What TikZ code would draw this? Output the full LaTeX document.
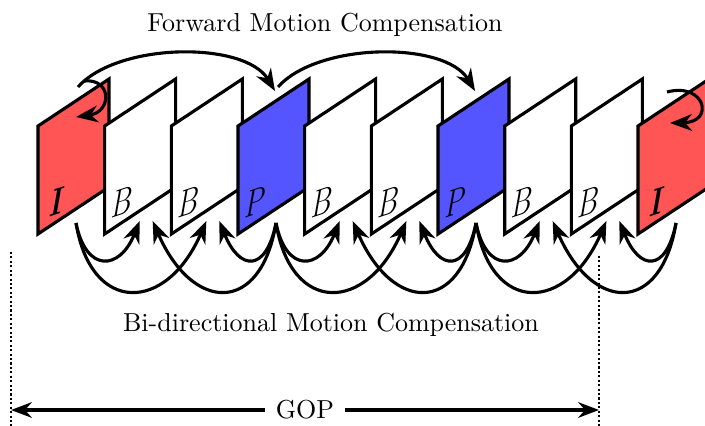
\documentclass[tikz,border=0pt]{standalone}
\usepackage{tikz}
\definecolor{iframe}{RGB}{255, 85, 85}
\definecolor{pframe}{RGB}{85, 85, 255}
\usetikzlibrary{arrows.meta, positioning, calc}

\begin{document}
\begin{tikzpicture}[x=0.01352cm, y=-0.01352cm,
    frame/.style={draw=black, line width=1.2pt, line join=miter},
    mc/.style={line width=1.2pt, -{Stealth[length=8.5pt, width=6.5pt]}},
    gop/.style={line width=0.8pt, dash pattern=on 0.8pt off 0.9pt}]
  \useasboundingbox (0,0) rectangle (705,426);

  % the frames of one GOP
  \foreach \k/\t/\c in {0/{\bfseries\itshape I}/iframe, 1/$B$/white, 2/$B$/white,
      3/$P$/pframe, 4/$B$/white, 5/$B$/white, 6/$P$/pframe, 7/$B$/white,
      8/$B$/white, 9/{\bfseries\itshape I}/iframe} {
    \pgfmathsetmacro{\x}{38+66.67*\k}
    \filldraw[frame, fill=\c] (\x,234) -- (\x,126) -- (\x+71,79) -- (\x+71,187) -- cycle;
    \node[xscale=0.75, yslant=0.25, font=\Large] (lbl\k) at (\x+17,202) {\t};
    \coordinate (fin\k) at (\x+37,91);
    \coordinate (fout\k) at (\x+40,87);
    \coordinate (bot\k) at (\x+38,223);
    \coordinate (tl\k) at (\x+35,221);
    \coordinate (tr\k) at (\x+48,221);
  }

  % I frames refer to themselves
  \coordinate (ia) at (84,81);
  \coordinate (ib) at (76,117);
  \coordinate (ic) at (667,92);
  \coordinate (id) at (670,123);
  \draw[mc] (ia) .. controls +(28,-3) and +(36,-5) .. (ib);
  \draw[mc] (ic) .. controls +(38,-10) and +(45,-1) .. (id);

  % forward motion compensation
  \node (fwd) at (325,25) {Forward Motion Compensation};
  \draw[mc] (fout0) .. controls +(40,-45) and +(-30,-50) .. (fin3);
  \draw[mc] (fout3) .. controls +(40,-45) and +(-30,-50) .. (fin6);

  % bi-directional motion compensation
  \foreach \s/\a/\b in {0/1/2, 3/4/5, 6/7/8} {
    \draw[mc] (bot\s) .. controls +(10,50) and +(-20,50) .. (tl\a);
    \draw[mc] (bot\s) .. controls +(15,92) and +(-40,92) .. (tl\b);
  }
  \foreach \s/\a/\b in {3/2/1, 6/5/4, 9/8/7} {
    \draw[mc] (bot\s) .. controls +(-10,50) and +(20,50) .. (tr\a);
    \draw[mc] (bot\s) .. controls +(-15,92) and +(40,92) .. (tr\b);
  }
  \node (bidir) at (331,325) {Bi-directional Motion Compensation};

  % length of the GOP
  \coordinate (lt) at (11,252);
  \coordinate (lb) at (11,426);
  \coordinate (rt) at (599,256);
  \coordinate (rb) at (599,426);
  \draw[gop] (lt) -- (lb);
  \draw[gop] (rt) -- (rb);
  \draw[line width=1.2pt, {Stealth[length=8pt, width=6pt]}-{Stealth[length=8pt, width=6pt]}]
    (lt |- 0,410) -- node[fill=white, inner sep=4pt] (gop) {GOP} (rt |- 0,410);
\end{tikzpicture}
\end{document}
